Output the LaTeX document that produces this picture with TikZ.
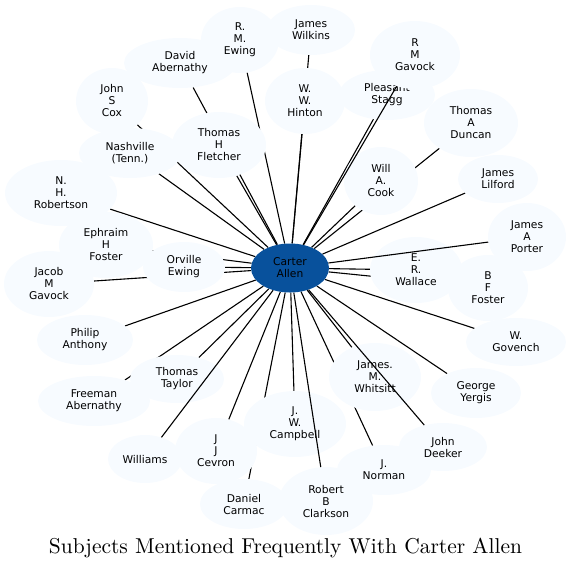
\documentclass[tikz,border=0pt]{standalone}
\usepackage{fontspec}
\newfontfamily\nodefont{DejaVu Sans}
\usetikzlibrary{shapes.geometric,backgrounds}
\definecolor{lightfill}{HTML}{F7FBFF}
\definecolor{hubfill}{HTML}{08519C}
\tikzset{
  pnode/.style={ellipse, fill=lightfill, draw=none, inner sep=0pt, align=center, text=black,
    font=\nodefont\fontsize{10.7}{12}\selectfont},
  hub/.style={pnode, fill=hubfill},
  sz/.style 2 args={minimum width=#1*2pt, minimum height=#2*2pt},
  link/.style={line width=1.1pt, black},
}
\begin{document}
\begin{tikzpicture}[x=1pt,y=-1pt]
\useasboundingbox (0,0) rectangle (572,571);
% nodes
\node[hub,sz={39}{24.5}] (ca) at (290,268) {Carter\\Allen};
\node[pnode,sz={56}{25}] (dab) at (180,63) {David\\Abernathy};
\node[pnode,sz={39}{33}] (rme) at (240,40) {R.\\M.\\Ewing};
\node[pnode,sz={44}{25}] (wil) at (311,30) {James\\Wilkins};
\node[pnode,sz={40}{33}] (hin) at (305,101) {W.\\W.\\Hinton};
\node[pnode,sz={48}{25}] (sta) at (387,95) {Pleasant\\Stagg};
\node[pnode,sz={45}{34}] (gav) at (415,55) {R\\M\\Gavock};
\node[pnode,sz={51}{25}] (nas) at (130,153) {Nashville\\(Tenn.)};
\node[pnode,sz={36}{33}] (cox) at (112,101) {John\\S\\Cox};
\node[pnode,sz={47}{33}] (fle) at (219,145) {Thomas\\H\\Fletcher};
\node[pnode,sz={47}{34}] (dun) at (471,123) {Thomas\\A\\Duncan};
\node[pnode,sz={37}{34}] (coo) at (381,181) {Will\\A.\\Cook};
\node[pnode,sz={40}{24}] (lil) at (498,179) {James\\Lilford};
\node[pnode,sz={56}{33}] (rob) at (61,193) {N.\\H.\\Robertson};
\node[pnode,sz={39}{34}] (por) at (527,237) {James\\A\\Porter};
\node[pnode,sz={45}{33}] (jac) at (49,284) {Jacob\\M\\Gavock};
\node[pnode,sz={47}{33}] (eph) at (106,245) {Ephraim\\H\\Foster};
\node[pnode,sz={41}{25}] (orv) at (184,267) {Orville\\Ewing};
\node[pnode,sz={40}{33}] (bff) at (488,288) {B\\F\\Foster};
\node[pnode,sz={46}{33}] (wal) at (416,270) {E.\\R.\\Wallace};
\node[pnode,sz={48}{25}] (phi) at (85,340) {Philip\\Anthony};
\node[pnode,sz={50}{24}] (gov) at (516,342) {W.\\Govench};
\node[pnode,sz={56}{25}] (fre) at (94,401) {Freeman\\Abernathy};
\node[pnode,sz={47}{24}] (tay) at (177,379) {Thomas\\Taylor};
\node[pnode,sz={46}{34}] (whi) at (375,377) {James.\\M.\\Whitsitt};
\node[pnode,sz={45}{25}] (yer) at (476,393) {George\\Yergis};
\node[pnode,sz={51}{33}] (cam) at (295,424) {J.\\W.\\Campbell};
\node[pnode,sz={44}{24}] (dee) at (443,447) {John\\Deeker};
\node[pnode,sz={37}{24}] (wms) at (145,459) {Williams};
\node[pnode,sz={41}{33}] (cev) at (216,451) {J\\J\\Cevron};
\node[pnode,sz={47}{25}] (nor) at (384,470) {J.\\Norman};
\node[pnode,sz={44}{25}] (car) at (244,504) {Daniel\\Carmac};
\node[pnode,sz={47}{34}] (cla) at (326,501) {Robert\\B\\Clarkson};
% edges behind nodes
\begin{scope}[on background layer]
\foreach \t in {wil,rme,dab,hin,sta,cox,fle,dun,nas,coo,lil,rob,eph,orv,wal,bff,jac,phi,gov,tay,whi,fre,yer,cam,cev,nor,car}
  \draw[link] (ca) -- (\t);
\end{scope}
% edges drawn over nodes
\foreach \t in {gav,dee,cla,wms,por}
  \draw[link] (ca) -- (\t);
% title
\node (title) at (285.5,548) {\resizebox{473pt}{!}{Subjects Mentioned Frequently With Carter Allen}};
\end{tikzpicture}
\end{document}
